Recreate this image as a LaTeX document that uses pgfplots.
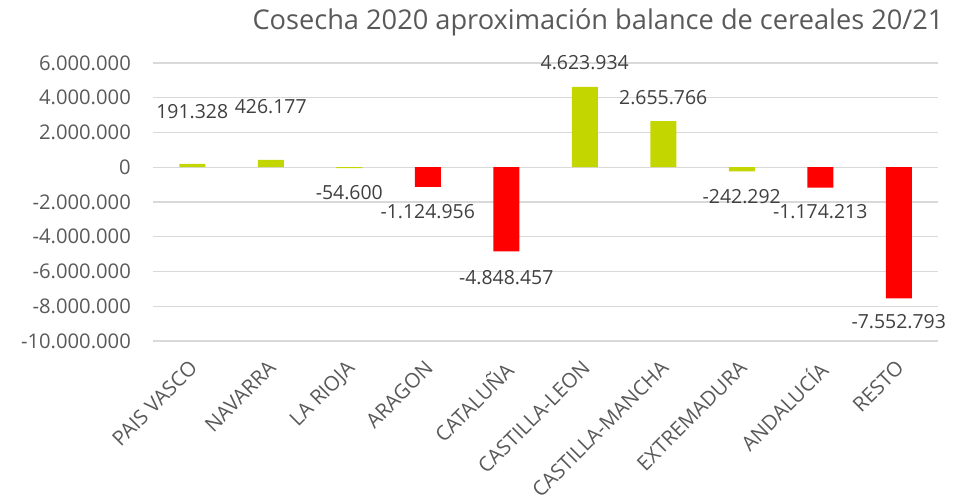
\documentclass[border=0pt]{standalone}
\usepackage{fontspec}
\setmainfont{Open Sans}
\usepackage{pgfplots}
\pgfplotsset{compat=1.18}
\definecolor{barGreen}{RGB}{196,214,0}
\definecolor{barRed}{RGB}{255,0,0}
\definecolor{txtGray}{RGB}{89,89,89}
\definecolor{lblGray}{RGB}{64,64,64}
\definecolor{gridGray}{RGB}{217,217,217}
\begin{document}
\begin{tikzpicture}
\useasboundingbox (0,0) rectangle (959bp,501bp);
\node[font=\fontsize{27.3}{31}\selectfont, text=txtGray, anchor=center] at (598bp,479bp) {Cosecha 2020 aproximación balance de cereales 20/21};
\begin{axis}[
  at={(153bp,160bp)}, anchor=south west,
  scale only axis, width=785bp, height=278bp,
  xmin=-0.5, xmax=9.5, ymin=-10000000, ymax=6000000,
  scaled y ticks=false,
  ytick={-10000000,-8000000,-6000000,-4000000,-2000000,0,2000000,4000000,6000000},
  yticklabels={-10.000.000,-8.000.000,-6.000.000,-4.000.000,-2.000.000,0,2.000.000,4.000.000,6.000.000},
  xtick={0,1,2,3,4,5,6,7,8,9},
  xticklabels={PAIS VASCO,NAVARRA,LA RIOJA,ARAGON,CATALUÑA,CASTILLA-LEON,CASTILLA-MANCHA,EXTREMADURA,ANDALUCÍA,RESTO},
  axis line style={draw=none},
  major tick length=0pt,
  ymajorgrids, grid style={gridGray, line width=1.2bp},
  yticklabel style={font=\fontsize{20.3}{23}\selectfont, text=txtGray, anchor=east, inner sep=0pt, xshift=-22bp},
  xticklabel style={xshift=-4bp, yshift=-18bp, rotate=45, anchor=north east, inner sep=0pt, font=\fontsize{20.5}{24}\selectfont, text=txtGray},
  clip=false,
]
\addplot[ybar, bar width=26bp, fill=barGreen, draw=none] coordinates {
  (0,191328) (1,426177) (2,-54600) (5,4623934) (6,2655766) (7,-242292)
};
\addplot[ybar, bar width=26bp, fill=barRed, draw=none] coordinates {
  (3,-1124956) (4,-4848457) (8,-1174213) (9,-7552793)
};
\begin{scope}[every node/.style={font=\fontsize{19.5}{22}\selectfont, text=lblGray, anchor=center}]
\node at (axis cs:0,3180000) {191.328};
\node at (axis cs:1,3470000) {426.177};
\node at (axis cs:2,-1480000) {-54.600};
\node at (axis cs:3,-2540000) {-1.124.956};
\node at (axis cs:4,-6370000) {-4.848.457};
\node at (axis cs:5,6040000) {4.623.934};
\node at (axis cs:6,3990000) {2.655.766};
\node at (axis cs:7,-1710000) {-242.292};
\node at (axis cs:8,-2540000) {-1.174.213};
\node at (axis cs:9,-8910000) {-7.552.793};
\end{scope}
\end{axis}
\end{tikzpicture}
\end{document}
